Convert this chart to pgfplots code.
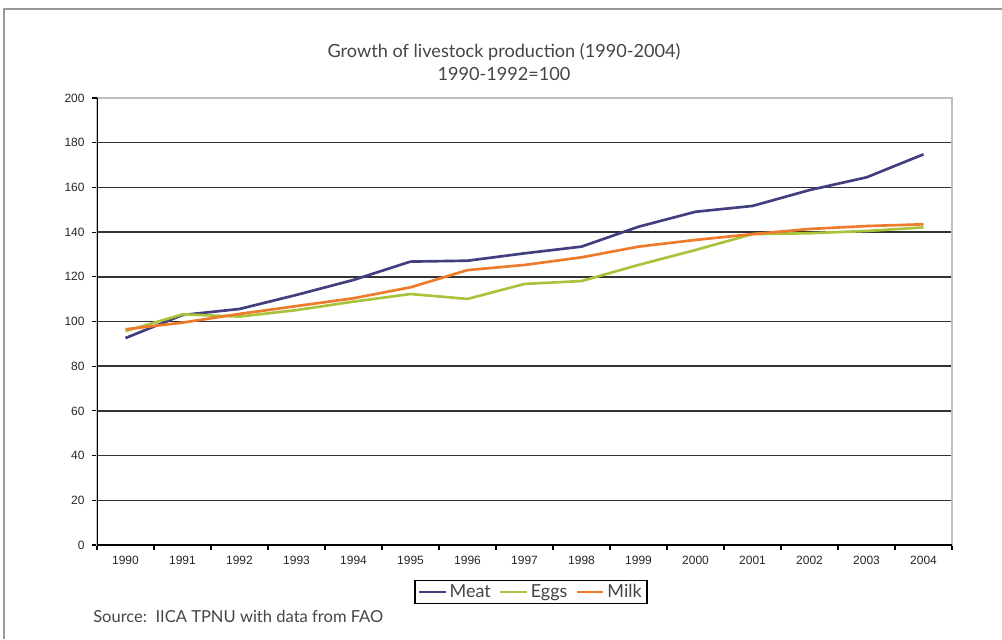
\documentclass[border=0pt]{standalone}
\usepackage{fontspec}
\setmainfont{Lato}
\newfontfamily\arialfont{Liberation Sans}
\usepackage{pgfplots}
\pgfplotsset{compat=1.18}
\definecolor{meat}{HTML}{413F7E}
\definecolor{eggs}{HTML}{A8C43C}
\definecolor{milk}{HTML}{EE7A2B}
\definecolor{txt}{HTML}{454545}
\definecolor{frame}{HTML}{9A9A9A}

\begin{document}
\begin{tikzpicture}[x=0.75pt,y=0.75pt]
\path[use as bounding box] (0,0) rectangle (1002,639);
% outer frame
\draw[frame, line width=1.6pt] (4,0) -- (4,630) -- (1002,630);
% title
\node[txt, font=\fontsize{13.6}{16}\selectfont] at (504,587) {Growth of livestock production (1990-2004)};
\node[txt, font=\fontsize{13.6}{16}\selectfont] at (504,565) {1990-1992=100};
% source
\node[txt, anchor=west, inner sep=0pt, font=\fontsize{12.4}{14}\selectfont] at (93,23) {Source:\ \ IICA TPNU with data from FAO};

\begin{axis}[
  at={(72.75pt,70.5pt)}, anchor=south west,
  scale only axis, width=641.25pt, height=335.25pt,
  xmin=-0.5, xmax=14.5, ymin=0, ymax=200,
  axis line style={draw=black!25, line width=0.8pt},
  xtick={-0.5,0.5,...,14.5}, xticklabels={},
  extra x ticks={0,1,...,14},
  extra x tick labels={1990,1991,1992,1993,1994,1995,1996,1997,1998,1999,2000,2001,2002,2003,2004},
  extra x tick style={major tick length=0pt, grid=none},
  ytick={0,20,...,180},
  extra y ticks={200},
  extra y tick style={grid=none},
  xtick pos=bottom, ytick pos=left,
  tick align=outside, major tick length=3.8pt,
  tick style={black, line width=0.8pt},
  ymajorgrids,
  grid style={black!80, line width=1.2pt},
  /pgf/number format/assume math mode=true,
  ticklabel style={text=black!85, font=\arialfont\fontsize{9}{10}\selectfont},
  xticklabel style={yshift=-5pt},
  yticklabel style={xshift=-2pt},
  legend columns=3,
  legend style={at={(0.5076,-0.105)}, anchor=center, draw=black, line width=0.9pt,
    font=\fontsize{13.5}{14}\selectfont, text=txt, inner xsep=2pt, inner ysep=1pt,
    /tikz/every even column/.append style={column sep=4pt}},
  legend image code/.code={\draw[#1] (0pt,0pt) -- (20pt,0pt);},
  every axis plot/.append style={line width=2pt, line join=round},
]
\addplot[meat] coordinates {
  (0,92.6) (1,102.9) (2,105.6) (3,111.9) (4,118.6) (5,126.8) (6,127.2) (7,130.5)
  (8,133.5) (9,142.4) (10,149.1) (11,151.7) (12,158.8) (13,164.5) (14,174.8)};
\addlegendentry{Meat}
\addplot[eggs] coordinates {
  (0,95.7) (1,103.2) (2,102.2) (3,105.1) (4,108.9) (5,112.3) (6,110.1) (7,116.8)
  (8,118.1) (9,125.3) (10,132.0) (11,139.1) (12,139.5) (13,140.5) (14,142.1)};
\addlegendentry{Eggs}
\addplot[milk] coordinates {
  (0,96.5) (1,99.5) (2,103.4) (3,106.9) (4,110.4) (5,115.3) (6,123.0) (7,125.3)
  (8,128.7) (9,133.5) (10,136.5) (11,139.1) (12,141.4) (13,142.7) (14,143.5)};
\addlegendentry{Milk}
% dark left and bottom axis lines
\draw[black, line width=1.1pt] (rel axis cs:0,1) -- (rel axis cs:0,0) -- (rel axis cs:1,0);
\end{axis}
\end{tikzpicture}
\end{document}
